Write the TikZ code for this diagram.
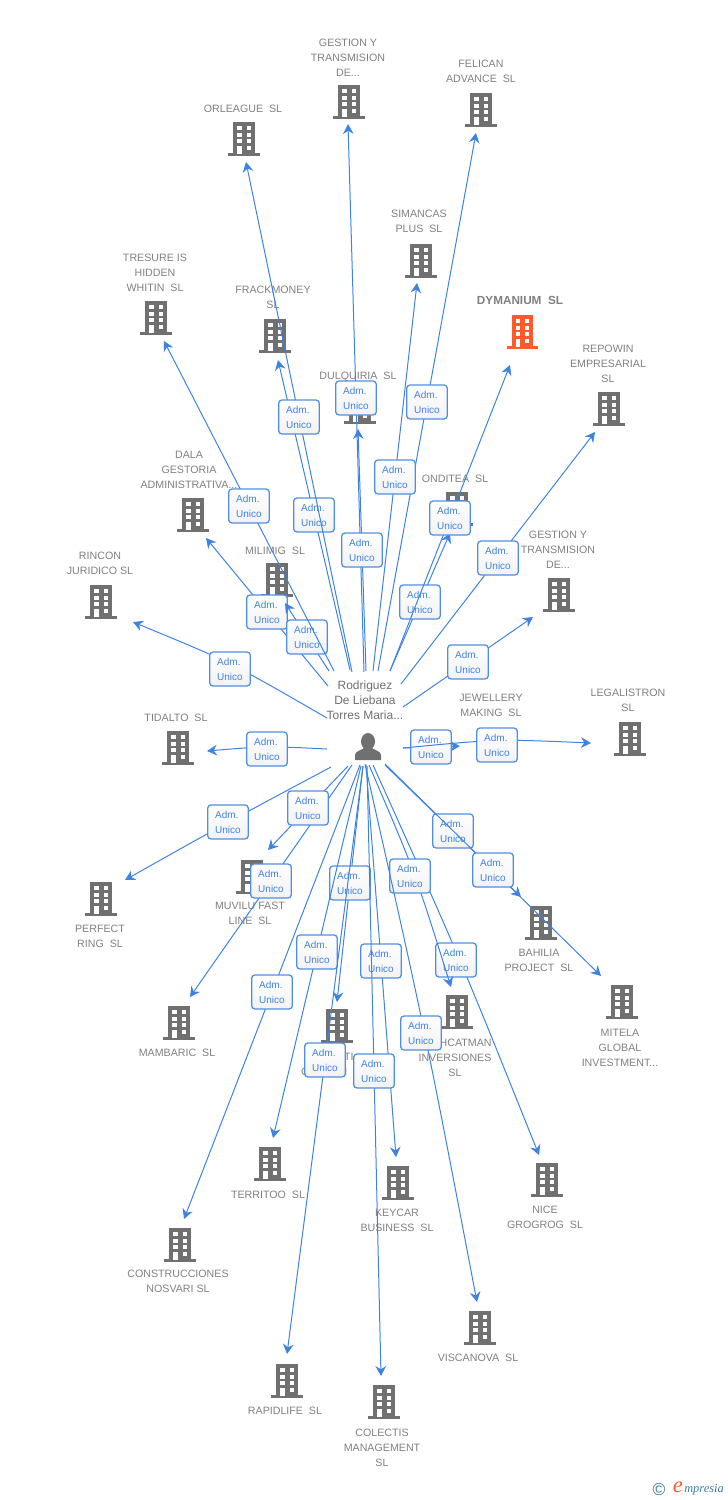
\documentclass[tikz,border=0pt]{standalone}
\usepackage{fontspec}
\setmainfont{Liberation Sans}
\newfontfamily\logofont{Liberation Serif}
\usetikzlibrary{arrows.meta}
\definecolor{cBlue}{HTML}{3F83E0}
\definecolor{cBorder}{HTML}{4F8FE3}
\definecolor{cIcon}{HTML}{707070}
\definecolor{cText}{HTML}{808080}
\definecolor{cOrange}{HTML}{FF5A2C}
\definecolor{cLogo}{HTML}{3C7D9B}
\tikzset{>={Stealth[length=7.5pt,width=8pt,inset=2.5pt]}}
\tikzset{
	link/.style={draw=cBlue, line width=0.75pt, ->},
	admbox/.style={draw=cBorder, line width=0.95pt, rounded corners=2.5pt, top color=white, bottom color=black!5, text=cBlue, font=\fontsize{7.5}{11.25}\selectfont, align=left, minimum width=30.5pt, minimum height=25.5pt, inner sep=0pt},
	compspot/.style={minimum width=24pt, minimum height=25pt, inner sep=0pt},
	complabel/.style={text=cText, font=\fontsize{8}{11.25}\selectfont, align=center, inner sep=0pt, yshift=-0.6pt},
	pics/bldg/.style={code={
		\fill[#1] (-10.8,-17) rectangle (10.8,15);
		\fill[#1] (-15.8,14) rectangle (15.8,17);
		\foreach \wy in {-13,-6.3,0.3}
		{
			\fill[white] (-6.8,\wy) rectangle +(4.3,3.8);
			\fill[white] (2.5,\wy) rectangle +(4.3,3.8);
		}
		\fill[white] (-6.8,7) rectangle (-2.5,14.7);
		\fill[white] (2.5,7) rectangle (6.8,10.8);
	}},
	pics/bldg/.default=cIcon
}
\begin{document}
\begin{tikzpicture}[x=0.75pt, y=-0.75pt]
	\useasboundingbox (0,0) rectangle (728,1500);
	
	%companies, icon first and then its text
	\foreach \n/\x/\y/\lx/\ly/\t in {
		orleague/244/139/243/108/{ORLEAGUE~~SL},
		gestionA/349/102/348/57/{GESTION Y\\TRANSMISION\\DE...},
		felican/481/110/481/71/{FELICAN\\ADVANCE~~SL},
		simancas/421/261/419/221/{SIMANCAS\\PLUS~~SL},
		tresure/156/318/155/272/{TRESURE IS\\HIDDEN\\WHITIN~~SL},
		frackmoney/275/336/273/297/{FRACKMONEY\\SL},
		repowin/609/409/608/363/{REPOWIN\\EMPRESARIAL\\SL},
		dulquiria/360/407/358/376/{DULQUIRIA~~SL},
		onditea/457/509/455/478/{ONDITEA~~SL},
		dala/193/515/189/469/{DALA\\GESTORIA\\ADMINISTRATIVA...},
		milimig/277/580/275/550/{MILIMIG~~SL},
		gestionB/559/595/558/549/{GESTION Y\\TRANSMISION\\DE...},
		rincon/101/602/100/563/{RINCON\\JURIDICO SL},
		legalistron/630/739/628/700/{LEGALISTRON\\SL},
		jewellery/497/745/491/705/{JEWELLERY\\MAKING~~SL},
		tidalto/178/748/176/717/{TIDALTO~~SL},
		perfect/101/899/100/936/{PERFECT\\RING~~SL},
		muvilu/252/877/250/913/{MUVILU FAST\\LINE~~SL},
		bahilia/541/923/539/960/{BAHILIA\\PROJECT~~SL},
		mitela/622/1002/620/1047/{MITELA\\GLOBAL\\INVESTMENT...},
		mambaric/179/1023/177/1052/{MAMBARIC~~SL},
		ati/337/1026/335/1064/{\phantom{XXX}ATI\\C\phantom{XXXXX}I\phantom{XXX}},
		hcatman/457/1012/455/1057/{\phantom{XXX}HCATMAN\\INVERSIONES\\SL},
		territoo/270/1164/268/1194/{TERRITOO~~SL},
		keycar/398/1183/397/1220/{KEYCAR\\BUSINESS~~SL},
		nice/547/1180/545/1217/{NICE\\GROGROG~~SL},
		construcciones/180/1245/178/1281/{CONSTRUCCIONES\\NOSVARI SL},
		viscanova/480/1328/478/1357/{VISCANOVA~~SL},
		rapidlife/287/1381/285/1410/{RAPIDLIFE~~SL},
		colectis/384/1402/382/1447/{COLECTIS\\MANAGEMENT\\SL}}
	{
		\node[compspot] (\n) at (\x,\y) {};
		\pic at (\n) {bldg};
		\node[complabel] (\n-txt) at (\lx,\ly) {\t};
	}
	
	%the orange one
	\node[compspot] (dymanium) at (522.5,332) {};
	\pic at (dymanium) {bldg=cOrange};
	\node[complabel, font=\fontsize{8.8}{11.25}\bfseries\selectfont] (dymanium-txt) at (520,300) {DYMANIUM~~SL};
	
	%person in the middle
	\node[minimum width=21pt, minimum height=21pt, inner sep=0pt] (hub) at (368,747) {};
	\fill[cIcon] (355,760) -- (355,755) .. controls (355,751) and (362,750) .. (364,748) -- (372,748) .. controls (374,750) and (381,751) .. (381,755) -- (381,760) -- cycle;
	\fill[cIcon] (368,741.5) ellipse (7 and 8.5);
	\node[text=cIcon, font=\fontsize{9}{11.25}\selectfont, align=center, inner sep=0pt, yshift=-0.6pt] (hub-txt) at (365,699) {Rodriguez\\De Liebana\\Torres Maria...};
	
	%connectors: line, then its box, so that later lines run over earlier boxes
	\foreach \n/\sx/\sy/\tx/\ty/\cx/\cy/\bx/\by in {
		frackmoney/350/670/278/360/314/515/314/515,
		orleague/352/672/246/162/299/417/299/417,
		gestionA/364/672/348/124/356/398/356/398,
		felican/378/671/476/133/427/402/427/402,
		simancas/373/671/417/283/395/477/395/477,
		dulquiria/366/671/358/429/362/550/362/550,
		onditea/390/671/450/533/420/602/420/602,
		dymanium/390/671/510/365/450/518/450/518,
		repowin/401/684/595/432/498/558/498/558,
		dala/328/686/206/538/267/612/267/612,
		milimig/329/671/285/603/307/637/307/637,
		tresure/334/671/164/341/249/506/249/506,
		rincon/327/718/133/622/230/662/230/669,
		gestionB/403/707/533/617/468/662/468/662,
		jewellery/403/748/460/746/431/747/431/747,
		legalistron/403/748/591/743/497/739/497/745,
		tidalto/327/749/207/751/267/746/267/749,
		perfect/331/767/125/880/228/822/228/822,
		mambaric/352/765/190/997/271/881/271/881,
		muvilu/348/766/268/850/308/808/308/808,
		ati/363/766/337/1002/350/883/350/883,
		territoo/361/766/273/1138/317/952/317/952,
		construcciones/360/765/184/1219/272/992/272/992,
		nice/373/765/539/1155/460/958/456/960,
		hcatman/369/765/451/987/415/872/410/876,
		keycar/366/765/396/1157/381/961/381/961,
		viscanova/365/764/477/1302/425/1030/421/1033,
		rapidlife/363/766/287/1354/325/1060/325/1060,
		colectis/367/766/381/1376/374/1071/374/1071,
		bahilia/385/765/521/897/453/831/453/831,
		mitela/385/764/601/976/493/870/493/870}
	{
		\coordinate (\n-from) at (\sx,\sy);
		\coordinate (\n-to) at (\tx,\ty);
		\draw[link] (\n-from) .. controls (\cx,\cy) .. (\n-to);
		\node[admbox] (\n-adm) at (\bx,\by) {Adm.\\Unico};
	}
	
	%logo in the corner
	\node[text=cLogo, font=\fontsize{13}{13}\selectfont, inner sep=0pt] (copyr) at (659,1489) {©};
	\node[text=cOrange, font=\logofont\fontsize{17}{17}\itshape\selectfont, inner sep=0pt] (logoE) at (678,1487) {e};
	\node[text=cLogo, font=\logofont\fontsize{9.3}{10}\itshape\selectfont, inner sep=0pt, anchor=west] (logoT) at (684,1490) {mpresia};
\end{tikzpicture}
\end{document}
